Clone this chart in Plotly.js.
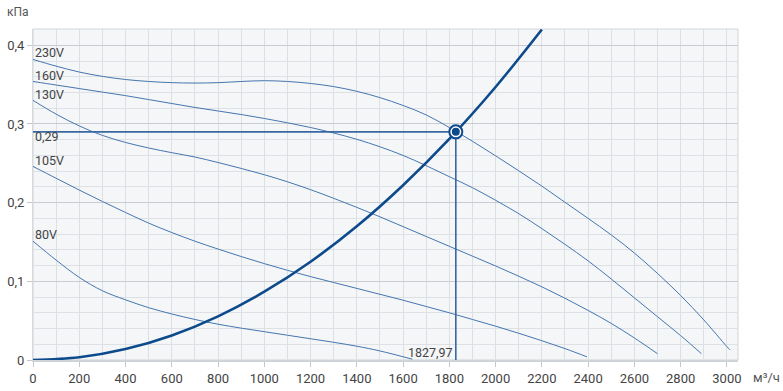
<!DOCTYPE html>
<html>
<head>
<meta charset="utf-8">
<script src="https://cdn.plot.ly/plotly-3.0.1.min.js"></script>
<style>html,body{margin:0;padding:0;background:#fff;}#chart{width:783px;height:391px;}</style>
</head>
<body>
<div id="chart"></div>
<script>
// ---- data ----
const xTickVals = [0,200,400,600,800,1000,1200,1400,1600,1800,2000,2200,2400,2600,2800,3000];
const xTickText = ["0","200","400","600","800","1000","1200","1400","1600","1800","2000","2200","2400","2600","2800","3000"];
const yTickVals = [0,0.1,0.2,0.3,0.4];
const yTickText = ["0","0,1","0,2","0,3","0,4"];

const v230x = [0,100,200,300,400,500,600,700,800,900,1000,1100,1200,1300,1400,1500,1600,1700,1800,1900,2000,2100,2200,2300,2400,2500,2600,2700,2800,2900,3000,3013];
const v230y = [0.382,0.3735,0.366,0.3605,0.3565,0.354,0.3525,0.352,0.3525,0.354,0.355,0.354,0.3515,0.3475,0.3415,0.3335,0.3235,0.3115,0.2955,0.278,0.2595,0.2405,0.221,0.2005,0.180,0.159,0.136,0.110,0.082,0.051,0.017,0.013];

const v160x = [0,100,200,300,400,500,600,700,800,900,1000,1100,1200,1300,1400,1500,1600,1700,1800,1900,2000,2100,2200,2300,2400,2500,2600,2700,2800,2890];
const v160y = [0.354,0.3495,0.345,0.3405,0.336,0.331,0.326,0.321,0.3165,0.312,0.307,0.3015,0.2955,0.2885,0.2805,0.271,0.260,0.247,0.233,0.219,0.203,0.186,0.167,0.147,0.126,0.103,0.079,0.055,0.031,0.008];

const v130x = [0,100,200,300,400,500,600,700,800,900,1000,1100,1200,1300,1400,1500,1600,1700,1800,1900,2000,2100,2200,2300,2400,2500,2600,2700];
const v130y = [0.330,0.3125,0.2975,0.2855,0.2765,0.2695,0.2635,0.258,0.251,0.2435,0.2355,0.2265,0.2165,0.2055,0.194,0.182,0.1695,0.157,0.1445,0.132,0.1195,0.1065,0.093,0.0785,0.063,0.0465,0.028,0.008];

const v105x = [0,100,200,300,400,500,600,700,800,900,1000,1100,1200,1300,1400,1500,1600,1700,1800,1900,2000,2100,2200,2300,2395];
const v105y = [0.246,0.231,0.216,0.2015,0.1875,0.174,0.162,0.151,0.141,0.1315,0.1225,0.114,0.106,0.0985,0.091,0.0835,0.076,0.068,0.060,0.0515,0.043,0.034,0.0245,0.0145,0.004];

const v80x = [0,100,200,300,400,500,600,700,800,900,1000,1100,1200,1300,1400,1500,1640];
const v80y = [0.151,0.127,0.105,0.088,0.0765,0.0665,0.0585,0.0515,0.0455,0.0405,0.036,0.0315,0.027,0.0225,0.0175,0.0115,0.001];

const sysX = [0,200,400,600,800,1000,1200,1400,1600,1800,2000,2200];
const sysY = [0,0.0035,0.0139,0.0312,0.0555,0.0868,0.1249,0.170,0.2222,0.281,0.347,0.420];

const opFlow = 1827.97;
const opPress = 0.29;
const opFlowText = "1827,97";
const opPressText = "0,29";

const curveLabels = ["230V","160V","130V","105V","80V"];
const curveLabelY = [0.391,0.361,0.337,0.254,0.159];

// ---- chart ----
const thin = {color:'#4576af', width:1, shape:'spline', smoothing:1};
const traces = [
  {x:v230x, y:v230y, mode:'lines', line:thin},
  {x:v160x, y:v160y, mode:'lines', line:thin},
  {x:v130x, y:v130y, mode:'lines', line:thin},
  {x:v105x, y:v105y, mode:'lines', line:thin},
  {x:v80x, y:v80y, mode:'lines', line:thin},
  {x:[0,opFlow,opFlow], y:[opPress,opPress,0], mode:'lines', line:{color:'#3a68a3', width:1.6}},
  {x:sysX, y:sysY, mode:'lines', line:{color:'#0d4a8c', width:2.6, shape:'spline', smoothing:1}},
  {x:[opFlow], y:[opPress], mode:'markers', marker:{size:13, color:'#ffffff', line:{color:'#0d4a8c', width:2}}},
  {x:[opFlow], y:[opPress], mode:'markers', marker:{size:8, color:'#0d4a8c'}}
];

const font = {family:'Roboto, "Open Sans", sans-serif', size:13, color:'#444'};
const lblFont = {family:font.family, size:12.5, color:'#444'};
const annotations = curveLabels.map((t,i)=>({
  x:0, y:curveLabelY[i], xref:'x', yref:'y', text:t, showarrow:false,
  xanchor:'left', yanchor:'middle', font:lblFont
}));
annotations.push({x:0, y:0.284, xref:'x', yref:'y', text:opPressText, showarrow:false, xanchor:'left', yanchor:'middle', font:lblFont});
annotations.push({x:opFlow, y:0.009, xref:'x', yref:'y', text:opFlowText, showarrow:false, xanchor:'right', yanchor:'middle', xshift:-1, font:lblFont});
annotations.push({x:-0.04, y:1.052, xref:'paper', yref:'paper', text:'кПа', showarrow:false, xanchor:'left', yanchor:'middle', font:{family:font.family, size:12, color:'#555'}});
annotations.push({x:1.019, y:-0.054, xref:'paper', yref:'paper', text:'м³/ч', showarrow:false, xanchor:'left', yanchor:'middle', font:{family:font.family, size:13, color:'#555'}});

const layout = {
  width:783, height:391,
  margin:{l:33, r:45, t:29, b:31, pad:0},
  paper_bgcolor:'#ffffff', plot_bgcolor:'#f4f6f8',
  showlegend:false, font:font,
  xaxis:{range:[0,3048], tickmode:'array', tickvals:xTickVals, ticktext:xTickText,
    showgrid:true, gridcolor:'#dcdfe3', gridwidth:1, zeroline:false,
    ticks:'outside', ticklen:5, tickcolor:'#c4c8ce', tickfont:font,
    showline:true, linecolor:'#d0d4d9', linewidth:2, mirror:false,
    minor:{tickmode:'linear', tick0:0, dtick:100, showgrid:true, gridcolor:'#dcdfe3', gridwidth:1, ticks:''}},
  yaxis:{range:[0,0.4207], tickmode:'array', tickvals:yTickVals, ticktext:yTickText,
    showgrid:true, gridcolor:'#c9cdd3', gridwidth:1, zeroline:false,
    ticks:'outside', ticklen:5, tickcolor:'#c4c8ce', tickfont:font,
    showline:true, linecolor:'#d6d9dd', linewidth:1, mirror:false,
    minor:{tickmode:'linear', tick0:0, dtick:0.02, showgrid:true, gridcolor:'#dde0e4', gridwidth:1, ticks:''}},
  shapes:[{type:'rect', xref:'paper', yref:'paper', x0:0, x1:1, y0:0, y1:1, line:{color:'#d0d4d9', width:1}, layer:'below'}],
  annotations:annotations
};

Plotly.newPlot('chart', traces, layout, {staticPlot:true, displayModeBar:false});
</script>
</body>
</html>
